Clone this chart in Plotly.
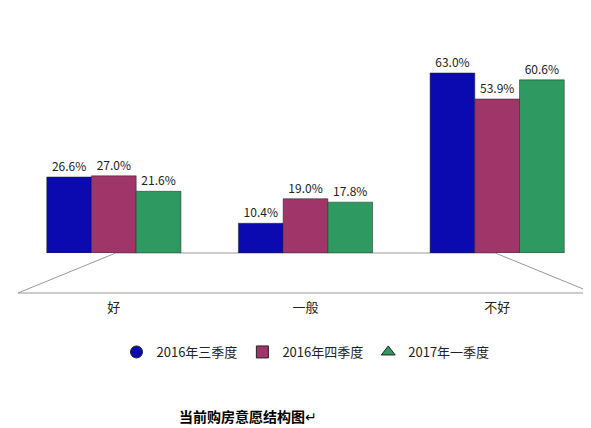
import plotly.graph_objects as go

categories = ["好", "一般", "不好"]
series_names = ["2016年三季度", "2016年四季度", "2017年一季度"]
q3_2016 = [26.6, 10.4, 63.0]
q4_2016 = [27.0, 19.0, 53.9]
q1_2017 = [21.6, 17.8, 60.6]

colors = ["#0A0AB0", "#A0356A", "#2E9A62"]
symbols = ["circle", "square", "triangle-up"]

fig = go.Figure()
for i, (name, vals) in enumerate(zip(series_names, [q3_2016, q4_2016, q1_2017])):
    fig.add_trace(go.Bar(
        x=categories, y=vals, name=name,
        marker=dict(color=colors[i], line=dict(color="#202020", width=0.5)),
        text=[f"{v:.1f}%" for v in vals], textposition="outside",
        textfont=dict(size=12, color="#222"), cliponaxis=False,
        showlegend=False,
    ))
    # legend entries with the marker shapes of the original
    fig.add_trace(go.Scatter(
        x=[None], y=[None], mode="markers", name=name,
        marker=dict(symbol=symbols[i], size=12, color=colors[i],
                    line=dict(color="#222", width=1)),
    ))

# floor of the 3D plot area
fig.add_shape(type="path", xref="paper", yref="paper",
              path="M 0.17 0 L 0.83 0 L 1.0 -0.2 L 0.0 -0.2 Z",
              line=dict(color="#999", width=1), fillcolor="rgba(0,0,0,0)", layer="below")

fig.update_layout(
    width=591, height=428,
    margin=dict(l=10, r=6, t=45, b=183),
    plot_bgcolor="white", paper_bgcolor="white",
    barmode="group", bargap=0.3, bargroupgap=0.0,
    font=dict(family="Noto Sans CJK SC, sans-serif", size=13, color="#222"),
    xaxis=dict(range=[-0.5, 2.5], showline=False, ticks="", showgrid=False,
               tickfont=dict(size=13), ticklabelstandoff=45),
    yaxis=dict(range=[0, 70], visible=False),
    legend=dict(orientation="h", x=0.5, xanchor="center", y=-0.42, yanchor="top",
                font=dict(size=13)),
    annotations=[dict(text="<b>当前购房意愿结构图</b>↵", xref="paper", yref="paper",
                      x=0.4, y=-0.815, xanchor="center", yanchor="middle",
                      showarrow=False, font=dict(size=14, color="#000"))],
)

fig.write_html("out.html")
